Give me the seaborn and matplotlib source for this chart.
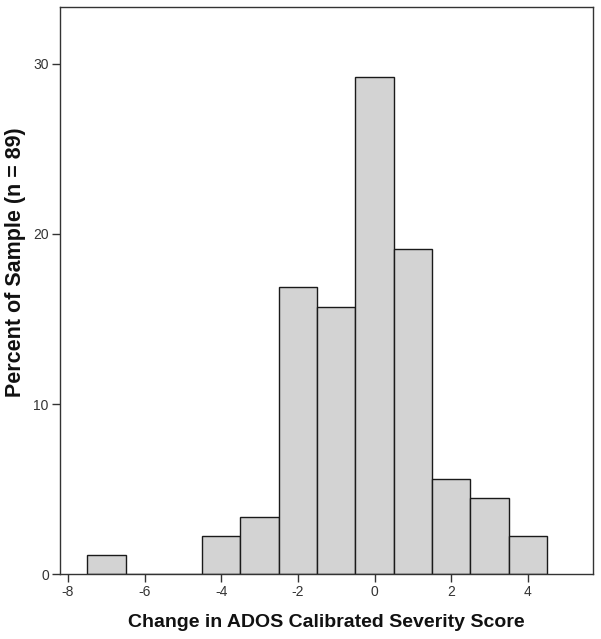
import matplotlib
matplotlib.use("Agg")
import matplotlib.pyplot as plt
import seaborn as sns

sns.set_style("ticks")
plt.rcParams['font.family'] = ['Liberation Sans', 'DejaVu Sans']
plt.rcParams['axes.unicode_minus'] = False

# Change in score (bin centres) and percent of sample (n = 89)
score_change = [-7, -4, -3, -2, -1, 0, 1, 2, 3, 4]
counts = [1, 2, 3, 15, 14, 26, 17, 5, 4, 2]
n_total = 89
percent = [c / n_total * 100 for c in counts]

x_ticks = [-8, -6, -4, -2, 0, 2, 4]
y_ticks = [0, 10, 20, 30]

fig = plt.figure(figsize=(6.01, 6.39), dpi=100)
ax = fig.add_axes([0.0998, 0.1017, 0.8869, 0.8873])

sns.histplot(x=score_change, weights=percent, discrete=True, ax=ax,
             color="#d3d3d3", edgecolor="#1a1a1a", linewidth=1.0, alpha=1.0)

ax.set_xlim(-8.21, 5.70)
ax.set_ylim(0, 33.35)
ax.set_xticks(x_ticks)
ax.set_yticks(y_ticks)
ax.tick_params(axis='both', direction='out', length=6, width=1, colors='#333333',
               labelcolor='#333333', labelsize=10, pad=2)

for s in ax.spines.values():
    s.set_visible(True)
    s.set_color('#333333')
    s.set_linewidth(1.0)

ax.set_xlabel('Change in ADOS Calibrated Severity Score', fontsize=14,
              fontweight='bold', labelpad=11, color='#111111')
ax.set_ylabel('Percent of Sample (n = 89)', fontsize=15.5,
              fontweight='bold', color='#111111')
ax.yaxis.set_label_coords(-0.063, 0.55)

plt.savefig("out.png", dpi=100)
plt.close()
